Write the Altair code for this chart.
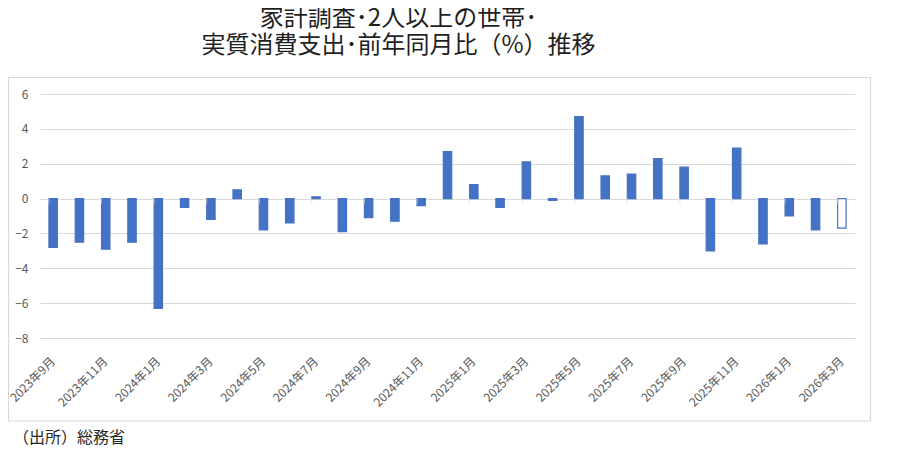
import altair as alt
import pandas as pd

months = [
    "2023年9月", "2023年10月", "2023年11月", "2023年12月",
    "2024年1月", "2024年2月", "2024年3月", "2024年4月", "2024年5月", "2024年6月",
    "2024年7月", "2024年8月", "2024年9月", "2024年10月", "2024年11月", "2024年12月",
    "2025年1月", "2025年2月", "2025年3月", "2025年4月", "2025年5月", "2025年6月",
    "2025年7月", "2025年8月", "2025年9月", "2025年10月", "2025年11月", "2025年12月",
    "2026年1月", "2026年2月", "2026年3月",
]
values = [
    -2.8, -2.5, -2.9, -2.5,
    -6.3, -0.5, -1.2, 0.5, -1.8, -1.4,
    0.1, -1.9, -1.1, -1.3, -0.4, 2.7,
    0.8, -0.5, 2.1, -0.1, 4.7, 1.3,
    1.4, 2.3, 1.8, -3.0, 2.9, -2.6,
    -1.0, -1.8, -1.7,
]
kinds = ["実績"] * 30 + ["速報"]
label_months = months[0::2]
y_ticks = [-8, -6, -4, -2, 0, 2, 4, 6]

title_lines = ["家計調査･2人以上の世帯･", "実質消費支出･前年同月比（%）推移"]
source_text = ["（出所）総務省"]

FONT = "Noto Sans CJK JP"
BLUE = "#4472C4"
GRID = "#d9d9d9"

df = pd.DataFrame({"month": months, "value": values, "kind": kinds})
tick_df = pd.DataFrame({"month": label_months})
src_df = pd.DataFrame({"t": source_text})

x_scale = alt.Scale(domain=months, paddingInner=0.68, paddingOuter=0.34)
y_scale = alt.Scale(domain=[-8, 6], nice=False, zero=False)

x_axis = alt.Axis(
    values=label_months,
    labelAngle=-45,
    labelAlign="right",
    labelBaseline="middle",
    labelPadding=21,
    ticks=False,
    domain=False,
    grid=False,
    labelFont=FONT,
    labelFontSize=12,
    labelColor="#595959",
    labelOverlap=False,
    labelBound=False,
)
y_axis = alt.Axis(
    values=y_ticks,
    grid=True,
    gridColor=GRID,
    gridWidth=1,
    domain=False,
    ticks=False,
    labelPadding=12,
    labelFont=FONT,
    labelFontSize=12,
    labelColor="#595959",
    labelOverlap=False,
    labelFlush=False,
    labelBound=False,
)

bars = alt.Chart(df).mark_bar(strokeWidth=1.2).encode(
    x=alt.X("month:N", scale=x_scale, sort=months, title=None, axis=x_axis),
    y=alt.Y("value:Q", scale=y_scale, title=None, axis=y_axis),
    fill=alt.Fill(
        "kind:N",
        scale=alt.Scale(domain=["実績", "速報"], range=[BLUE, "#ffffff"]),
        legend=None,
    ),
    stroke=alt.value(BLUE),
)

ticks = alt.Chart(tick_df).transform_calculate(base="0").mark_tick(
    orient="vertical", size=5, thickness=1, color=GRID, yOffset=2.5
).encode(
    x=alt.X("month:N", scale=x_scale, sort=months, bandPosition=0, title=None, axis=x_axis),
    y=alt.Y("base:Q", scale=y_scale, title=None, axis=y_axis),
)

border = alt.Chart(src_df).mark_rect(
    fill=None, stroke=GRID, strokeWidth=1.2
).encode(
    x=alt.value(-31.5),
    x2=alt.value(830.5),
    y=alt.value(-16.5),
    y2=alt.value(327),
)

source = alt.Chart(src_df).mark_text(
    align="left", baseline="alphabetic", font=FONT, fontSize=16, color="#262626"
).encode(
    text="t:N",
    x=alt.value(-27),
    y=alt.value(349),
)

chart = alt.layer(border, bars, ticks, source).properties(
    width=815,
    height=244,
    padding={"left": 32, "top": 86, "right": 50, "bottom": 109},
    autosize=alt.AutoSizeParams(type="none"),
    background="white",
    title=alt.TitleParams(
        text=title_lines,
        font=FONT,
        fontSize=24,
        fontWeight="normal",
        color="#1f1f1f",
        anchor="middle",
        frame="group",
        dx=-49,
        offset=19,
        lineHeight=27,
    ),
).configure_view(stroke=None)

chart.save("out.html", embed_options={"renderer": "svg", "actions": False})
